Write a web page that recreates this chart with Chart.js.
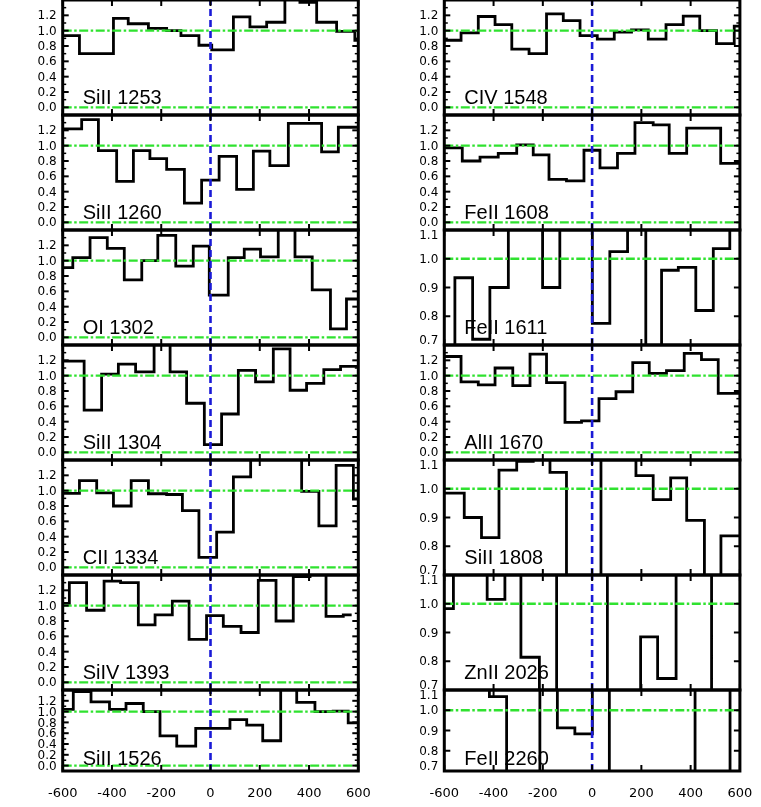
<!DOCTYPE html>
<html>
<head>
<meta charset="utf-8">
<script src="https://cdn.jsdelivr.net/npm/chart.js@4.4.1/dist/chart.umd.min.js"></script>
<style>
  html, body { margin: 0; padding: 0; background: #ffffff; overflow: hidden; }
  #stack { position: relative; width: 761px; height: 807px; }
  #stack canvas { position: absolute; }
</style>
</head>
<body>
<div id="stack"></div>
<script>
// Velocity axis (km/s) and normalised-flux tick values
const xTicks = [-600, -400, -200, 0, 200, 400, 600];
const yTicksFull = [0.0, 0.2, 0.4, 0.6, 0.8, 1.0, 1.2];
const yTicksNarrow = [0.7, 0.8, 0.9, 1.0, 1.1];
const yRangeFull = [-0.1, 1.4];
const yRangeNarrow = [0.7, 1.1];
const continuumFull = [0.0, 1.0];
const continuumNarrow = [1.0];

// Transitions, left column top to bottom, then right column
const lineNames = ['SiII 1253', 'SiII 1260', 'OI 1302', 'SiII 1304', 'CII 1334', 'SiIV 1393', 'SiII 1526',
                   'CIV 1548', 'FeII 1608', 'FeII 1611', 'AlII 1670', 'SiII 1808', 'ZnII 2026', 'FeII 2260'];

// Pixel bin edges (km/s) and normalised flux in each bin
const vel_SiII1253  = [-600, -532, -394, -334, -252, -178, -120, -47, 5, 93, 160, 228, 302, 363, 431, 512, 586, 600];
const flux_SiII1253 = [0.935, 0.70, 1.16, 1.09, 1.03, 1.00, 0.935, 0.81, 0.75, 1.18, 1.05, 1.11, 1.50, 1.37, 1.11, 0.99, 0.875];

const vel_SiII1260  = [-600, -523, -455, -381, -313, -246, -178, -106, -36, 35, 106, 174, 241, 316, 451, 519, 600];
const flux_SiII1260 = [1.22, 1.34, 0.935, 0.535, 0.935, 0.83, 0.69, 0.25, 0.55, 0.86, 0.43, 0.93, 0.74, 1.29, 0.92, 1.24];

const vel_OI1302  = [-600, -559, -489, -419, -350, -279, -214, -141, -70, -5, 72, 137, 203, 275, 343, 413, 487, 552, 600];
const flux_OI1302 = [0.91, 1.04, 1.30, 1.16, 0.75, 1.00, 1.33, 0.93, 1.19, 0.55, 1.04, 1.15, 1.05, 1.50, 1.05, 0.62, 0.11, 0.50];

const vel_SiII1304  = [-600, -513, -442, -374, -304, -229, -164, -97, -25, 45, 113, 183, 255, 323, 390, 460, 528, 600];
const flux_SiII1304 = [1.19, 0.55, 1.02, 1.15, 1.05, 1.50, 1.05, 0.64, 0.10, 0.50, 1.07, 0.92, 1.35, 0.81, 0.90, 1.08, 1.12];

const vel_CII1334  = [-600, -532, -462, -394, -322, -252, -178, -114, -47, 25, 93, 163, 370, 440, 510, 580, 600];
const flux_CII1334 = [0.965, 1.13, 0.97, 0.80, 1.13, 0.96, 0.95, 0.74, 0.13, 0.46, 1.18, 1.50, 0.99, 0.54, 1.33, 0.89];

const vel_SiIV1393  = [-600, -573, -503, -432, -365, -293, -225, -155, -87, -16, 52, 124, 194, 266, 336, 404, 469, 539, 573];
const flux_SiIV1393 = [1.03, 1.30, 0.94, 1.32, 1.30, 0.75, 0.88, 1.06, 0.56, 0.87, 0.73, 0.65, 1.33, 0.80, 1.38, 1.50, 0.86, 0.88];

const vel_SiII1526  = [-600, -557, -485, -410, -343, -273, -205, -137, -60, 79, 147, 212, 285, 350, 424, 498, 559, 600];
const flux_SiII1526 = [1.04, 1.37, 1.18, 1.04, 1.15, 1.00, 0.55, 0.36, 0.69, 0.85, 0.75, 0.46, 1.50, 1.17, 1.00, 1.01, 0.79];

const vel_CIV1548  = [-600, -532, -462, -394, -326, -256, -185, -117, -49, 21, 90, 160, 228, 300, 370, 437, 505, 577, 600];
const flux_CIV1548 = [0.875, 0.97, 1.185, 1.08, 0.76, 0.70, 1.22, 1.13, 0.935, 0.89, 0.98, 1.01, 0.89, 1.08, 1.19, 1.00, 0.83, 1.06];

const vel_FeII1608  = [-600, -527, -455, -381, -306, -239, -175, -104, -33, 32, 103, 174, 248, 313, 384, 451, 522, 600];
const flux_FeII1608 = [0.97, 0.80, 0.85, 0.90, 1.01, 0.88, 0.56, 0.54, 0.94, 0.71, 0.90, 1.30, 1.27, 0.90, 1.23, 1.23, 0.77];

const vel_FeII1611  = [-600, -557, -485, -415, -340, -201, -131, 1, 72, 144, 218, 282, 350, 421, 492, 559, 600];
const flux_FeII1611 = [0.60, 0.934, 0.72, 0.90, 1.20, 0.90, 1.20, 0.775, 1.025, 1.20, 0.60, 0.96, 0.97, 0.82, 1.035, 1.20];

const vel_AlII1670  = [-600, -532, -462, -394, -322, -252, -185, -110, -43, 28, 97, 165, 232, 302, 374, 444, 512, 600];
const flux_AlII1670 = [1.25, 0.92, 0.88, 1.10, 0.87, 1.28, 0.91, 0.39, 0.41, 0.70, 0.79, 1.17, 1.03, 1.065, 1.29, 1.21, 0.77];

const vel_SiII1808  = [-600, -519, -449, -378, -306, -239, -171, -104, 36, 178, 248, 319, 384, 456, 523, 600];
const flux_SiII1808 = [0.985, 0.90, 0.83, 1.065, 1.095, 1.20, 1.057, 0.60, 1.20, 1.046, 0.962, 1.038, 0.89, 0.60, 0.836];

const vel_ZnII2026  = [-600, -563, -426, -354, -289, -214, -144, 62, 197, 266, 341, 485, 600];
const flux_ZnII2026 = [0.983, 1.20, 1.015, 1.20, 0.814, 0.60, 1.20, 0.60, 0.885, 0.74, 1.20, 0.60];

const vel_FeII2260  = [-600, -417, -347, -212, -141, -70, 1, 70, 418, 560, 600];
const flux_FeII2260 = [1.20, 1.067, 0.60, 1.20, 0.913, 0.883, 1.20, 0.60, 1.20, 0.60];

const spectra = [
  [vel_SiII1253, flux_SiII1253, 'full'], [vel_SiII1260, flux_SiII1260, 'full'],
  [vel_OI1302, flux_OI1302, 'full'], [vel_SiII1304, flux_SiII1304, 'full'],
  [vel_CII1334, flux_CII1334, 'full'], [vel_SiIV1393, flux_SiIV1393, 'full'],
  [vel_SiII1526, flux_SiII1526, 'full'],
  [vel_CIV1548, flux_CIV1548, 'full'], [vel_FeII1608, flux_FeII1608, 'full'],
  [vel_FeII1611, flux_FeII1611, 'narrow'], [vel_AlII1670, flux_AlII1670, 'full'],
  [vel_SiII1808, flux_SiII1808, 'narrow'], [vel_ZnII2026, flux_ZnII2026, 'narrow'],
  [vel_FeII2260, flux_FeII2260, 'narrow']
];

// Page geometry of the panel grid
const GRID = {
  colCanvasLeft: [18, 399],
  colPadLeft: [44.7, 45.3],
  plotWidth: 295.6,
  canvasWidth: 362,
  rowTop: [0, 115, 230, 345, 460, 575, 690],
  rowHeight: [115, 115, 115, 115, 115, 115, 81],
  margin: 10,
  axisRoom: 40
};

const GREEN = '#2fe22f';
const BLUE = '#1a1ad6';

function stepPoints(edges, flux) {
  const pts = flux.map((f, i) => ({ x: edges[i], y: f }));
  pts.push({ x: edges[edges.length - 1], y: flux[flux.length - 1] });
  return pts;
}

function seg(ctx, x1, y1, x2, y2) {
  ctx.beginPath(); ctx.moveTo(x1, y1); ctx.lineTo(x2, y2); ctx.stroke();
}

// Frame, inward tick marks, tick labels and transition name
const panelDecor = {
  id: 'panelDecor',
  afterDatasetsDraw(chart, args, o) {
    const { ctx, chartArea: a } = chart;
    const xs = chart.scales.x, ys = chart.scales.y;
    ctx.save();
    ctx.strokeStyle = '#000';
    ctx.fillStyle = '#000';
    ctx.lineCap = 'butt';

    // x ticks on top and bottom edges
    ctx.lineWidth = 2;
    xTicks.forEach(v => {
      const px = xs.getPixelForValue(v);
      seg(ctx, px, a.top, px, a.top + 6);
      seg(ctx, px, a.bottom, px, a.bottom - 6);
    });
    // y ticks on left and right edges
    o.majorY.forEach(v => {
      const py = ys.getPixelForValue(v);
      seg(ctx, a.left, py, a.left + 6, py);
      seg(ctx, a.right, py, a.right - 6, py);
    });
    ctx.lineWidth = 1.5;
    o.minorY.forEach(v => {
      const py = ys.getPixelForValue(v);
      seg(ctx, a.left, py, a.left + 3.5, py);
      seg(ctx, a.right, py, a.right - 3.5, py);
    });

    // frame
    ctx.lineWidth = 3;
    ctx.strokeRect(a.left, a.top, a.right - a.left, a.bottom - a.top);

    // y labels
    ctx.font = '12px "DejaVu Sans"';
    ctx.textAlign = 'right';
    ctx.textBaseline = 'middle';
    o.labelY.forEach(v => {
      let py = ys.getPixelForValue(v);
      py = Math.min(Math.max(py, a.top + 5), a.bottom - 5);
      ctx.fillText(v.toFixed(1), a.left - 6, py + 1);
    });

    // x labels on the bottom row
    if (o.showX) {
      ctx.font = '13px "DejaVu Sans"';
      ctx.textAlign = 'center';
      ctx.textBaseline = 'middle';
      xTicks.forEach(v => {
        ctx.fillText(String(v), xs.getPixelForValue(v), a.bottom + 23);
      });
    }

    // transition name
    ctx.font = '20px "Liberation Sans", Arial, sans-serif';
    ctx.textAlign = 'left';
    ctx.textBaseline = 'alphabetic';
    ctx.fillText(o.name, a.left + 20, a.bottom - o.nameLift);
    ctx.restore();
  }
};

const stack = document.getElementById('stack');

spectra.forEach(([vel, flux, kind], idx) => {
  const col = idx < 7 ? 0 : 1;
  const row = idx % 7;
  const h = GRID.rowHeight[row];
  const bottomRow = row === 6;
  const padL = GRID.colPadLeft[col];
  const padR = GRID.canvasWidth - padL - GRID.plotWidth;
  const padT = GRID.margin;
  const padB = bottomRow ? GRID.axisRoom : GRID.margin;
  const cw = GRID.canvasWidth;
  const ch = h + padT + padB;

  const cv = document.createElement('canvas');
  cv.width = cw; cv.height = ch;
  cv.style.width = cw + 'px'; cv.style.height = ch + 'px';
  cv.style.left = GRID.colCanvasLeft[col] + 'px';
  cv.style.top = (GRID.rowTop[row] - padT) + 'px';
  stack.appendChild(cv);

  const narrow = kind === 'narrow';
  const yr = narrow ? yRangeNarrow : yRangeFull;
  const levels = narrow ? continuumNarrow : continuumFull;
  const majorY = narrow ? yTicksNarrow : yTicksFull;
  const minorY = narrow ? [] : yTicksFull.map(v => v + 0.1);

  const datasets = [{
    data: stepPoints(vel, flux),
    stepped: 'before',
    borderColor: '#000',
    borderWidth: 2.8,
    borderJoinStyle: 'miter',
    pointRadius: 0,
    fill: false,
    order: 3
  }];
  levels.forEach(lv => datasets.push({
    data: [{ x: -600, y: lv }, { x: 600, y: lv }],
    borderColor: GREEN,
    borderWidth: 2.4,
    borderDash: [9, 2.5, 2.5, 2.5],
    pointRadius: 0,
    fill: false,
    order: 2
  }));
  datasets.push({
    data: [{ x: 0, y: yr[0] }, { x: 0, y: yr[1] }],
    borderColor: BLUE,
    borderWidth: 2.6,
    borderDash: [7, 4],
    pointRadius: 0,
    fill: false,
    order: 1
  });

  new Chart(cv, {
    type: 'line',
    data: { datasets },
    options: {
      responsive: false,
      animation: false,
      events: [],
      layout: { padding: { left: padL, right: padR, top: padT, bottom: padB } },
      scales: {
        x: { type: 'linear', min: -600, max: 600, display: false },
        y: { type: 'linear', min: yr[0], max: yr[1], display: false }
      },
      plugins: {
        legend: { display: false },
        tooltip: { enabled: false },
        panelDecor: {
          name: lineNames[idx],
          majorY, minorY,
          labelY: majorY,
          showX: bottomRow,
          nameLift: h > 100 ? 11 : 6.5
        }
      }
    },
    plugins: [panelDecor]
  });
});
</script>
</body>
</html>
